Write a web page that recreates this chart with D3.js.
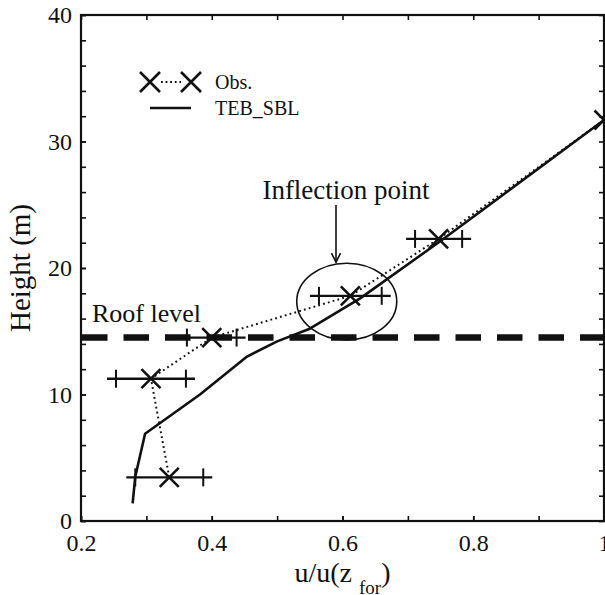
<!DOCTYPE html>
<html>
<head>
<meta charset="utf-8">
<script src="https://cdn.jsdelivr.net/npm/d3@7"></script>
<style>
  html, body { margin: 0; padding: 0; background: #fff; }
  svg { display: block; }
  svg text { font-family: "Liberation Serif", "Times New Roman", serif; }
</style>
</head>
<body>
<svg id="chart" width="605" height="595"></svg>
<script>
// Observed wind profile (normalised speed vs height) with spread
const obsU   = [0.335, 0.307, 0.400, 0.612, 0.747, 1.000];
const obsZ   = [3.45, 11.25, 14.5, 17.8, 22.3, 31.7];
const obsErr = [0.052, 0.0535, 0.038, 0.048, 0.036, 0];

// TEB_SBL modelled profile
const modelU = [0.279, 0.283, 0.298, 0.382, 0.454, 0.500, 0.550, 0.627, 0.749, 1.000];
const modelZ = [1.4, 3.5, 6.9, 10.0, 13.0, 14.2, 15.2, 17.6, 22.1, 31.7];

// Roof height (m)
const roofLevel = 14.5;

// Axis ticks
const xMajorTicks = [0.2, 0.4, 0.6, 0.8, 1.0];
const xMinorTicks = [0.2, 0.3, 0.4, 0.5, 0.6, 0.7, 0.8, 0.9, 1.0];
const yMajorTicks = [0, 10, 20, 30, 40];
const yMinorTicks = d3.range(0, 41, 2);

const FONT = '"Liberation Serif", "Times New Roman", serif';
const INK = "#111";

const svg = d3.select("#chart");
const plotL = 81, plotR = 604, plotT = 15, plotB = 521;

const x = d3.scaleLinear().domain([0.2, 1.0]).range([plotL, plotR]);
const y = d3.scaleLinear().domain([0, 40]).range([plotB, plotT]);

const fmtX = d => (d === 1 ? "1" : d3.format(".1f")(d));

// Frame
svg.append("rect")
  .attr("x", plotL).attr("y", plotT)
  .attr("width", plotR - plotL).attr("height", plotB - plotT)
  .attr("fill", "none").attr("stroke", INK).attr("stroke-width", 2.2);

function styleAxis(g) {
  g.attr("font-family", FONT).attr("font-size", 24);
  g.select(".domain").remove();
  g.selectAll(".tick line").attr("stroke", INK).attr("stroke-width", 1.6);
  g.selectAll(".tick text").attr("fill", INK);
}

// Bottom axis
svg.append("g").attr("transform", `translate(0,${plotB})`)
  .call(d3.axisBottom(x).tickValues(xMinorTicks).tickSize(-5).tickFormat(""))
  .call(styleAxis);
svg.append("g").attr("transform", `translate(0,${plotB})`)
  .call(d3.axisBottom(x).tickValues(xMajorTicks).tickSize(-5).tickPadding(13).tickFormat(fmtX))
  .call(styleAxis);
// Top axis
svg.append("g").attr("transform", `translate(0,${plotT})`)
  .call(d3.axisTop(x).tickValues(xMinorTicks).tickSize(-5).tickFormat(""))
  .call(styleAxis);
// Left axis
svg.append("g").attr("transform", `translate(${plotL},0)`)
  .call(d3.axisLeft(y).tickValues(yMinorTicks).tickSize(-5).tickFormat(""))
  .call(styleAxis);
svg.append("g").attr("transform", `translate(${plotL},0)`)
  .call(d3.axisLeft(y).tickValues(yMajorTicks).tickSize(-5).tickPadding(9).tickFormat(d3.format("d")))
  .call(styleAxis);
// Right axis
svg.append("g").attr("transform", `translate(${plotR},0)`)
  .call(d3.axisRight(y).tickValues(yMinorTicks).tickSize(-5).tickFormat(""))
  .call(styleAxis);

// Axis titles
svg.append("text")
  .attr("transform", `translate(30,${(plotT + plotB) / 2}) rotate(-90)`)
  .attr("text-anchor", "middle")
  .attr("font-family", FONT).attr("font-size", 29).attr("fill", INK)
  .text("Height (m)");

const xt = svg.append("text")
  .attr("x", (plotL + plotR) / 2).attr("y", 582)
  .attr("text-anchor", "middle")
  .attr("font-family", FONT).attr("font-size", 28).attr("fill", INK);
xt.append("tspan").text("u/u(z ");
xt.append("tspan").attr("dy", 12).attr("font-size", 19).text("for");
xt.append("tspan").attr("dy", -12).text(")");

// Roof level
svg.append("line")
  .attr("x1", plotL + 1).attr("x2", plotR)
  .attr("y1", y(roofLevel)).attr("y2", y(roofLevel))
  .attr("stroke", INK).attr("stroke-width", 6.5)
  .attr("stroke-dasharray", "25.5,16");
svg.append("text")
  .attr("x", 92).attr("y", y(roofLevel) - 16)
  .attr("font-family", FONT).attr("font-size", 26).attr("fill", INK)
  .text("Roof level");

// Model line
const line = d3.line().x(d => x(d[0])).y(d => y(d[1]));
svg.append("path")
  .datum(modelU.map((u, i) => [u, modelZ[i]]))
  .attr("d", line)
  .attr("fill", "none").attr("stroke", INK).attr("stroke-width", 2.6)
  .attr("stroke-linejoin", "round");

// Observations: dotted connector
const obs = obsU.map((u, i) => ({ u, z: obsZ[i], e: obsErr[i] }));
svg.append("path")
  .datum(obs.map(d => [d.u, d.z]))
  .attr("d", line)
  .attr("fill", "none").attr("stroke", INK).attr("stroke-width", 2)
  .attr("stroke-dasharray", "1.8,3.2");

// Error bars with cross caps
const eb = svg.append("g").attr("stroke", INK);
obs.filter(d => d.e > 0).forEach(d => {
  const yy = y(d.z), lo = x(d.u - d.e), hi = x(d.u + d.e);
  eb.append("line").attr("x1", lo - 9).attr("x2", hi + 9)
    .attr("y1", yy).attr("y2", yy).attr("stroke-width", 2.4);
  [lo, hi].forEach(cx => {
    eb.append("line").attr("x1", cx).attr("x2", cx)
      .attr("y1", yy - 9).attr("y2", yy + 9).attr("stroke-width", 2);
  });
});

// X markers
function cross(g, cx, cy, s) {
  g.append("path")
    .attr("d", `M${cx - s},${cy - s}L${cx + s},${cy + s}M${cx - s},${cy + s}L${cx + s},${cy - s}`)
    .attr("stroke", INK).attr("stroke-width", 2.6).attr("fill", "none");
}
const mk = svg.append("g");
obs.forEach(d => cross(mk, x(d.u), y(d.z), 9.5));

// Inflection point annotation
const ell = { u: 0.6065, z: 17.35, du: 0.0765, dz: 3.03 };
svg.append("ellipse")
  .attr("cx", x(ell.u)).attr("cy", y(ell.z))
  .attr("rx", x(ell.u + ell.du) - x(ell.u))
  .attr("ry", y(ell.z - ell.dz) - y(ell.z))
  .attr("fill", "none").attr("stroke", INK).attr("stroke-width", 1.6);
const ax = 336, ay0 = 205, ay1 = y(ell.z + ell.dz) - 1;
svg.append("line").attr("x1", ax).attr("x2", ax).attr("y1", ay0).attr("y2", ay1)
  .attr("stroke", INK).attr("stroke-width", 1.6);
svg.append("path")
  .attr("d", `M${ax - 4.5},${ay1 - 9}L${ax},${ay1}L${ax + 4.5},${ay1 - 9}`)
  .attr("fill", "none").attr("stroke", INK).attr("stroke-width", 1.6);
svg.append("text")
  .attr("x", 346).attr("y", 199).attr("text-anchor", "middle")
  .attr("font-family", FONT).attr("font-size", 27).attr("fill", INK)
  .text("Inflection point");

// Legend
const lg = svg.append("g");
cross(lg, 150, 82, 10);
cross(lg, 191, 82, 10);
lg.append("line").attr("x1", 161).attr("x2", 181).attr("y1", 82).attr("y2", 82)
  .attr("stroke", INK).attr("stroke-width", 2).attr("stroke-dasharray", "1.8,2.8");
lg.append("text").attr("x", 215).attr("y", 89)
  .attr("font-family", FONT).attr("font-size", 20).attr("fill", INK).text("Obs.");
lg.append("line").attr("x1", 150).attr("x2", 191).attr("y1", 108).attr("y2", 108)
  .attr("stroke", INK).attr("stroke-width", 2.6);
lg.append("text").attr("x", 215).attr("y", 115)
  .attr("font-family", FONT).attr("font-size", 20).attr("fill", INK).text("TEB_SBL");
</script>
</body>
</html>
